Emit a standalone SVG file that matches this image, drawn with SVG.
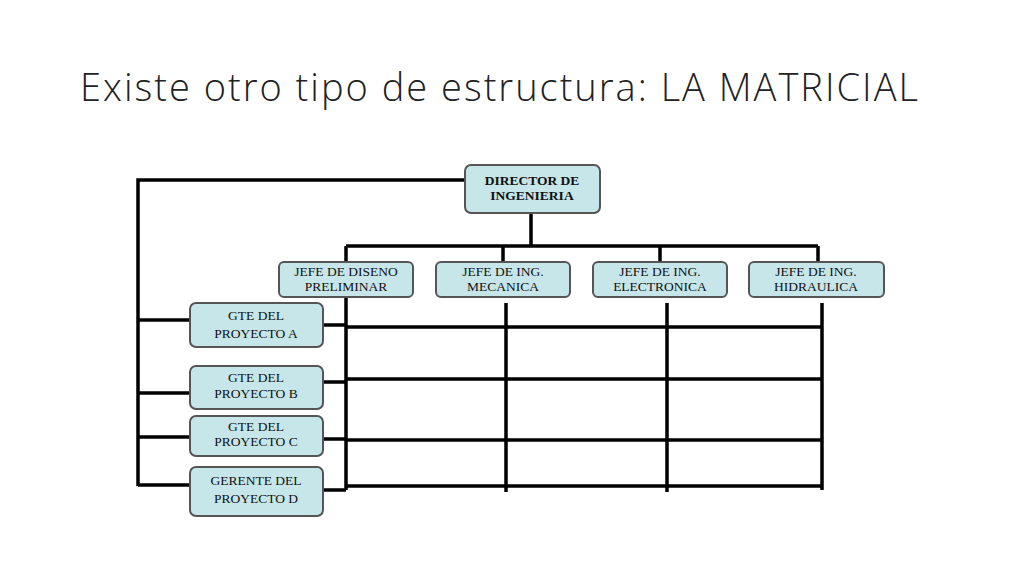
<svg xmlns="http://www.w3.org/2000/svg" width="1024" height="576" viewBox="0 0 1024 576">
<style>
.b{fill:#c6e6ea;stroke:#555;stroke-width:2}
.t{font-family:"Liberation Serif",serif;font-size:13.5px;text-anchor:middle;fill:#111}
.l{stroke:#000;stroke-width:3.5;fill:none}
</style>
<rect width="1024" height="576" fill="#fff"/>
<text x="80" y="101" font-family="Open Sans, Liberation Sans, sans-serif" font-weight="300" font-size="38" fill="#222" textLength="838" lengthAdjust="spacing">Existe otro tipo de estructura:  LA MATRICIAL</text>
<g id="connectors" class="l">
<path d="M465 180H138V486"/>
<path d="M531 213V246M346 246H818M346 246V262M503 246V262M660 246V262M818 246V262"/>
<path d="M346 297V490M506 303V492M667 303V492M822 303V490"/>
<path d="M346 327H822M346 379H822M346 440H822M346 486H822"/>
<path d="M138 320H190M138 393H190M138 437H190M138 485H190"/>
<path d="M323 325H346M323 382H346M323 439H346M323 490H346"/>
</g>
<g id="director"><rect class="b" x="465" y="165" width="135" height="48" rx="6"/><text class="t" font-weight="bold" x="532" y="185">DIRECTOR DE</text><text class="t" font-weight="bold" x="532" y="200">INGENIERIA</text></g>
<g id="jefe1"><rect class="b" x="279" y="262" width="134" height="35" rx="5"/><text class="t" x="346" y="276">JEFE DE DISENO</text><text class="t" x="346" y="291">PRELIMINAR</text></g>
<g id="jefe2"><rect class="b" x="436" y="262" width="134" height="35" rx="5"/><text class="t" x="503" y="276">JEFE DE ING.</text><text class="t" x="503" y="291">MECANICA</text></g>
<g id="jefe3"><rect class="b" x="593" y="262" width="134" height="35" rx="5"/><text class="t" x="660" y="276">JEFE DE ING.</text><text class="t" x="660" y="291">ELECTRONICA</text></g>
<g id="jefe4"><rect class="b" x="749" y="262" width="135" height="35" rx="5"/><text class="t" x="816" y="276">JEFE DE ING.</text><text class="t" x="816" y="291">HIDRAULICA</text></g>
<g id="gteA"><rect class="b" x="190" y="303" width="133" height="44" rx="6"/><text class="t" x="256" y="320">GTE DEL</text><text class="t" x="256" y="338">PROYECTO A</text></g>
<g id="gteB"><rect class="b" x="190" y="366" width="133" height="43" rx="6"/><text class="t" x="256" y="382">GTE DEL</text><text class="t" x="256" y="398">PROYECTO B</text></g>
<g id="gteC"><rect class="b" x="190" y="416" width="133" height="40" rx="6"/><text class="t" x="256" y="431">GTE DEL</text><text class="t" x="256" y="446">PROYECTO C</text></g>
<g id="gteD"><rect class="b" x="190" y="467" width="133" height="49" rx="6"/><text class="t" x="256" y="485">GERENTE DEL</text><text class="t" x="256" y="503">PROYECTO D</text></g>
</svg>
